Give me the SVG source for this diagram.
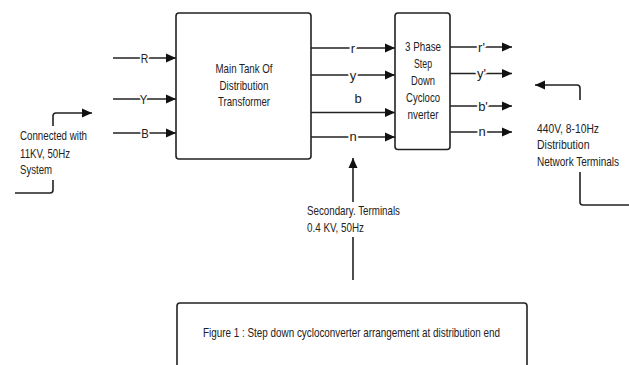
<svg xmlns="http://www.w3.org/2000/svg" width="629" height="365" viewBox="0 0 629 365">
<style>
.box{fill:#fff;stroke:#222;stroke-width:1.6}
.ln{fill:none;stroke:#222;stroke-width:1.6}
.arr{marker-end:url(#ah)}
text{font-family:"Liberation Sans",Arial,sans-serif;font-size:13px;fill:#222}
.c{text-anchor:middle}
.lbl{paint-order:stroke;stroke:#fff;stroke-width:4px;stroke-linejoin:round}
</style>
<defs>
<marker id="ah" markerUnits="userSpaceOnUse" markerWidth="10" markerHeight="10" refX="10" refY="5" orient="auto">
<path d="M0,0.5 L10,5 L0,9.5 z" fill="#111"/>
</marker>
</defs>
<rect width="629" height="365" fill="#fff"/>

<g id="connectors">
<path class="ln arr" d="M113,58 H176"/>
<path class="ln arr" d="M113,99 H176"/>
<path class="ln arr" d="M113,133 H176"/>
<path class="ln arr" d="M311,48 H395"/>
<path class="ln arr" d="M311,75 H395"/>
<path class="ln arr" d="M311,112.5 H395"/>
<path class="ln arr" d="M311,137 H395"/>
<path class="ln arr" d="M450,47 H512"/>
<path class="ln arr" d="M450,73.5 H512"/>
<path class="ln arr" d="M450,106 H512"/>
<path class="ln arr" d="M450,132 H512"/>
<path class="ln" d="M15,193 H50 Q53,193 53,190 V180"/>
<path class="ln arr" d="M53,126 V116 Q53,113 56,113 H92"/>
<path class="ln" d="M629,205 H583 Q580,205 580,202 V172"/>
<path class="ln arr" d="M580,100 V88 Q580,85 577,85 H535"/>
<path class="ln" d="M353,280 V237"/>
<path class="ln arr" d="M353,202 V158"/>
<text class="c lbl" x="144.5" y="62.5" textLength="7.5" lengthAdjust="spacingAndGlyphs">R</text>
<text class="c lbl" x="143.5" y="103.5" textLength="7.5" lengthAdjust="spacingAndGlyphs">Y</text>
<text class="c lbl" x="145" y="137.5" textLength="7.5" lengthAdjust="spacingAndGlyphs">B</text>
<text class="c lbl" x="353" y="52.5">r</text>
<text class="c lbl" x="353" y="79.5">y</text>
<text class="c" x="358" y="102.5">b</text>
<text class="c lbl" x="353" y="141">n</text>
<text class="c lbl" x="481.5" y="51.5">r'</text>
<text class="c lbl" x="481.5" y="78">y'</text>
<text class="c lbl" x="483" y="110.5">b'</text>
<text class="c lbl" x="482" y="136">n</text>
</g>

<g id="main-tank">
<rect class="box" x="176" y="13" width="135" height="146" rx="3"/>
<text class="c" x="244" y="73" textLength="57" lengthAdjust="spacingAndGlyphs">Main Tank Of</text>
<text class="c" x="244" y="89.5" textLength="49" lengthAdjust="spacingAndGlyphs">Distribution</text>
<text class="c" x="244" y="106" textLength="52" lengthAdjust="spacingAndGlyphs">Transformer</text>
</g>

<g id="cycloconverter">
<rect class="box" x="395" y="13" width="55" height="136.5" rx="3"/>
<text class="c" x="423" y="51" textLength="36" lengthAdjust="spacingAndGlyphs">3 Phase</text>
<text class="c" x="423" y="68" textLength="18" lengthAdjust="spacingAndGlyphs">Step</text>
<text class="c" x="423" y="85" textLength="24" lengthAdjust="spacingAndGlyphs">Down</text>
<text class="c" x="423" y="102" textLength="34" lengthAdjust="spacingAndGlyphs">Cycloco</text>
<text class="c" x="423" y="118.5" textLength="31" lengthAdjust="spacingAndGlyphs">nverter</text>
</g>

<g id="supply-label">
<text x="20" y="139.5" textLength="67" lengthAdjust="spacingAndGlyphs">Connected with</text>
<text x="20" y="157.5" textLength="50" lengthAdjust="spacingAndGlyphs">11KV, 50Hz</text>
<text x="20" y="173.5" textLength="32" lengthAdjust="spacingAndGlyphs">System</text>
</g>

<g id="network-label">
<text x="537" y="132.5" textLength="62" lengthAdjust="spacingAndGlyphs">440V, 8-10Hz</text>
<text x="537" y="149" textLength="52.5" lengthAdjust="spacingAndGlyphs">Distribution</text>
<text x="537" y="165.5" textLength="82" lengthAdjust="spacingAndGlyphs">Network Terminals</text>
</g>

<g id="secondary-label">
<text x="307" y="215" textLength="93" lengthAdjust="spacingAndGlyphs">Secondary. Terminals</text>
<text x="307" y="232" textLength="57" lengthAdjust="spacingAndGlyphs">0.4 KV, 50Hz</text>
</g>

<g id="caption">
<rect class="box" x="177" y="303" width="350" height="90" rx="3"/>
<text x="203" y="337" textLength="297" lengthAdjust="spacingAndGlyphs">Figure 1 : Step down cycloconverter arrangement at distribution end</text>
</g>
</svg>
